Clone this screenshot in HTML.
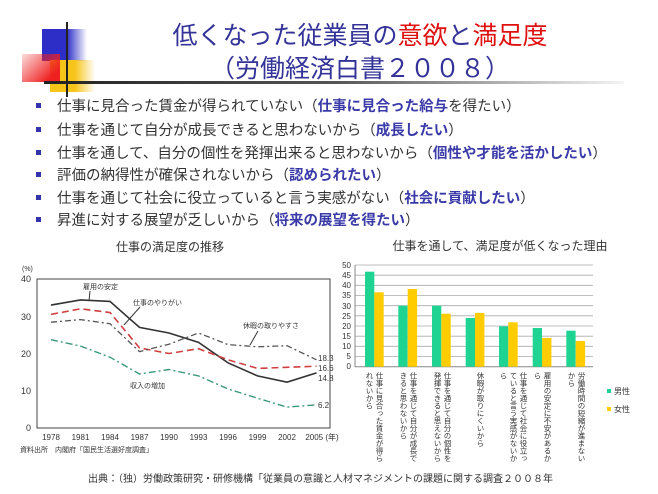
<!DOCTYPE html>
<html><head><meta charset="utf-8"><style>
body{margin:0;background:#fff;}
#w{position:relative;width:658px;height:494px;overflow:hidden;background:#fff;font-family:"Liberation Sans","Noto Sans CJK JP",sans-serif;}
.t{position:absolute;white-space:nowrap;}
.b{position:absolute;left:57px;font-size:14.5px;color:#333;white-space:nowrap;}
.b i{font-style:normal;color:#3a3aa8;font-weight:bold;}
.sq{position:absolute;left:36px;width:5px;height:5px;background:#3333aa;}
.v{position:absolute;writing-mode:vertical-rl;font-size:7.5px;line-height:10px;color:#333;top:372px;height:92px;white-space:nowrap;}
</style></head><body><div id="w">
<div class="t" style="left:42px;top:29px;width:45px;height:32px;background:linear-gradient(90deg,#2d2dc8 55%,rgba(45,45,200,0))"></div>
<div class="t" style="left:50px;top:60px;width:45px;height:32px;background:linear-gradient(90deg,#f7c41a 55%,rgba(247,196,26,0))"></div>
<div class="t" style="left:22px;top:54px;width:38px;height:28px;background:linear-gradient(135deg,rgba(240,30,30,0.15),#ee2020 80%)"></div>
<div class="t" style="left:66px;top:22px;width:2px;height:75px;background:#222"></div>
<div class="t" style="left:44px;top:81px;width:580px;height:3px;background:linear-gradient(90deg,#222 0%,#555 50%,rgba(200,200,200,0.2) 100%)"></div>
<div class="t" style="left:160px;top:16px;width:400px;text-align:center;font-size:25px;color:#333399">低くなった従業員の<span style="color:#e01010">意欲</span>と<span style="color:#e01010">満足度</span></div>
<div class="t" style="left:160px;top:49px;width:400px;text-align:center;font-size:25px;color:#333399">（労働経済白書２００８）</div>
<div class="sq" style="top:103px"></div><div class="b" style="top:95px">仕事に見合った賃金が得られていない（<i>仕事に見合った給与</i>を得たい）</div>
<div class="sq" style="top:127px"></div><div class="b" style="top:119px">仕事を通じて自分が成長できると思わないから（<i>成長したい</i>）</div>
<div class="sq" style="top:150px"></div><div class="b" style="top:142px">仕事を通して、自分の個性を発揮出来ると思わないから（<i>個性や才能を活かしたい</i>）</div>
<div class="sq" style="top:172px"></div><div class="b" style="top:164px">評価の納得性が確保されないから（<i>認められたい</i>）</div>
<div class="sq" style="top:195px"></div><div class="b" style="top:187px">仕事を通じて社会に役立っていると言う実感がない（<i>社会に貢献したい</i>）</div>
<div class="sq" style="top:217px"></div><div class="b" style="top:209px">昇進に対する展望が乏しいから（<i>将来の展望を得たい</i>）</div>
<div class="t" style="left:80px;top:238px;width:180px;text-align:center;font-size:12px;color:#333">仕事の満足度の推移</div>
<div class="t" style="left:370px;top:237px;width:260px;text-align:center;font-size:12px;color:#333">仕事を通して、満足度が低くなった理由</div>

<svg width="658" height="494" style="position:absolute;left:0;top:0" font-family="Liberation Sans, Noto Sans CJK JP, sans-serif">
<rect x="37" y="279" width="293" height="149" fill="none" stroke="#444" stroke-width="1"/>
<g font-size="9" fill="#333" text-anchor="end">
<text x="31" y="282">40</text><text x="31" y="320">30</text><text x="31" y="357">20</text><text x="31" y="394">10</text><text x="31" y="431">0</text></g>
<text x="22" y="271" font-size="7" fill="#333">(%)</text>
<g font-size="8" fill="#333" text-anchor="middle">
<text x="51" y="440">1978</text><text x="80.5" y="440">1981</text><text x="110" y="440">1984</text><text x="139.5" y="440">1987</text><text x="169" y="440">1990</text><text x="198.5" y="440">1993</text><text x="228" y="440">1996</text><text x="257.5" y="440">1999</text><text x="287" y="440">2002</text><text x="322" y="440">2005 (年)</text></g>
<text x="20" y="452" font-size="7" fill="#333">資料出所　内閣府「国民生活選好度調査」</text>
<polyline fill="none" stroke="#333" stroke-width="1.6" points="51,305.1 80.5,299.9 110,301.4 139.5,327.4 169,333 198.5,342.3 228,362.8 257.5,375.9 287,382.2 316.5,372.9"/>
<polyline fill="none" stroke="#d04040" stroke-width="1.6" stroke-dasharray="7,4" points="51,314.4 80.5,308.8 110,312.5 139.5,347.9 169,353.5 198.5,348.7 228,359.8 257.5,368.4 287,367.3 316.5,366.2"/>
<polyline fill="none" stroke="#555" stroke-width="1.3" stroke-dasharray="6,3,2,3" points="51,322.2 80.5,319.6 110,323.7 139.5,351.6 169,344.2 198.5,333 228,344.6 257.5,346.8 287,345.7 316.5,359.8"/>
<polyline fill="none" stroke="#3a9a7a" stroke-width="1.4" stroke-dasharray="7,3,2,3" points="51,339.7 80.5,346.1 110,357.2 139.5,374 169,369.5 198.5,375.9 228,388.9 257.5,398.2 287,407.1 316.5,404.9"/>
<g font-size="7" fill="#333">
<text x="83" y="289">雇用の安定</text><line x1="90" y1="291" x2="89" y2="301" stroke="#333"/>
<text x="133" y="305">仕事のやりがい</text><line x1="140" y1="307" x2="124" y2="325" stroke="#333"/>
<text x="243" y="328">休暇の取りやすさ</text><line x1="258" y1="331" x2="250" y2="345" stroke="#333"/>
<text x="130" y="388">収入の増加</text></g>
<g font-size="8" fill="#333"><text x="318" y="361">18.3</text><text x="318" y="371">16.6</text><text x="318" y="381">14.8</text><text x="318" y="408">6.2</text></g>

<g stroke="#aaa" stroke-width="0.8">
<line x1="355" y1="265" x2="593" y2="265"/><line x1="355" y1="275.2" x2="593" y2="275.2"/><line x1="355" y1="285.3" x2="593" y2="285.3"/><line x1="355" y1="295.5" x2="593" y2="295.5"/><line x1="355" y1="305.7" x2="593" y2="305.7"/><line x1="355" y1="315.8" x2="593" y2="315.8"/><line x1="355" y1="326" x2="593" y2="326"/><line x1="355" y1="336.2" x2="593" y2="336.2"/><line x1="355" y1="346.3" x2="593" y2="346.3"/><line x1="355" y1="356.5" x2="593" y2="356.5"/></g>
<line x1="355" y1="265" x2="355" y2="367" stroke="#888"/><line x1="355" y1="366.7" x2="593" y2="366.7" stroke="#888"/>
<g font-size="8" fill="#333" text-anchor="end">
<text x="351" y="268">50</text><text x="351" y="278">45</text><text x="351" y="288">40</text><text x="351" y="298">35</text><text x="351" y="309">30</text><text x="351" y="319">25</text><text x="351" y="329">20</text><text x="351" y="339">15</text><text x="351" y="349">10</text><text x="351" y="359">5</text><text x="351" y="369">0</text></g>
<g fill="#1fd493">
<rect x="365" y="271.7" width="9.3" height="95"/><rect x="398.3" y="305.7" width="9.3" height="61"/><rect x="432" y="305.7" width="9.3" height="61"/><rect x="465.7" y="318" width="9.3" height="48.7"/><rect x="499" y="326.3" width="9.3" height="40.4"/><rect x="532.7" y="328" width="9.3" height="38.7"/><rect x="566.3" y="330.7" width="9.3" height="36"/></g>
<g fill="#ffcc00">
<rect x="374.3" y="292.3" width="9.4" height="74.4"/><rect x="407.7" y="289" width="9.4" height="77.7"/><rect x="441.3" y="313.7" width="9.4" height="53"/><rect x="475" y="313" width="9.4" height="53.7"/><rect x="508.3" y="322.3" width="9.4" height="44.4"/><rect x="542" y="338" width="9.4" height="28.7"/><rect x="575.7" y="341" width="9.4" height="25.7"/></g>
<rect x="607" y="389" width="4" height="4" fill="#1fd493"/><text x="614" y="394" font-size="8" fill="#333">男性</text>
<rect x="607" y="407" width="4" height="4" fill="#ffcc00"/><text x="614" y="412" font-size="8" fill="#333">女性</text>
</svg>
<div class="v" style="left:364px">仕事に見合った賃金が得ら<br>れないから</div>
<div class="v" style="left:398px">仕事を通じて自分が成長で<br>きると思わないから</div>
<div class="v" style="left:432px">仕事を通じて自分の個性を<br>発揮できると思えないから</div>
<div class="v" style="left:475px">休暇が取りにくいから</div>
<div class="v" style="left:498px">仕事を通じて社会に役立っ<br>ていると言う実感がないか<br>ら</div>
<div class="v" style="left:532px">雇用の安定に不安があるか<br>ら</div>
<div class="v" style="left:566px">労働時間の短縮が進まない<br>から</div>
<div class="t" style="left:88px;top:470px;font-size:10px;color:#333">出典：（独）労働政策研究・研修機構「従業員の意識と人材マネジメントの課題に関する調査２００８年</div>
</div></body></html>
